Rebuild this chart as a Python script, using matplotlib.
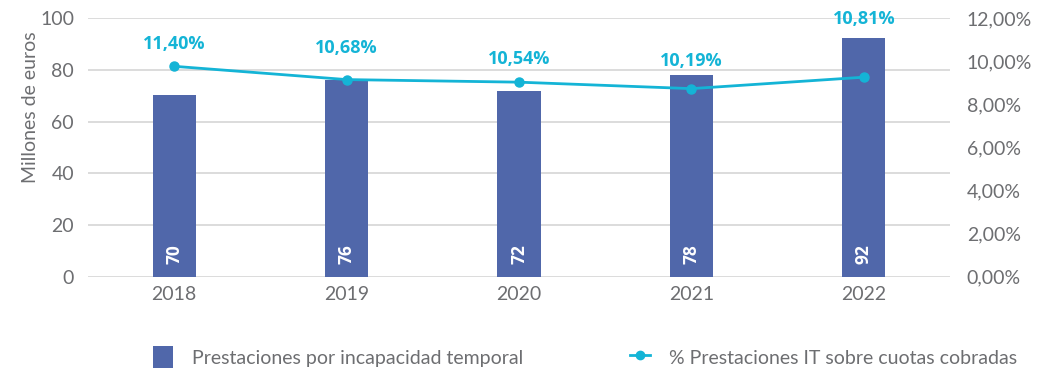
import matplotlib
matplotlib.use("Agg")
import matplotlib.pyplot as plt
from matplotlib.ticker import FuncFormatter
from matplotlib.lines import Line2D
from matplotlib.patches import Patch


# ----------------------------------------------------------------------
# Data
# ----------------------------------------------------------------------
years = ["2018", "2019", "2020", "2021", "2022"]
benefits_meur = [70.4, 76.1, 71.9, 77.9, 92.3]
benefits_pct = [11.40, 10.68, 10.54, 10.19, 10.81]
right_ticks = [0, 2, 4, 6, 8, 10, 12]

BAR_COLOUR = "#5067aa"
LINE_COLOUR = "#14b4d6"
TEXT_COLOUR = "#6d6e71"
GRID_COLOUR = "#d9d9d9"
BOLD_FONT = ["Open Sans", "DejaVu Sans"]

plt.rcParams["font.family"] = ["Lato", "DejaVu Sans"]


def comma(v, decimals):
    return f"{v:.{decimals}f}".replace(".", ",")


fig = plt.figure(figsize=(10.45, 3.7), dpi=100)
ax = fig.add_axes([0.0842, 0.2522, 0.8250, 0.6983])

x = range(len(years))
ax.bar(x, benefits_meur, width=0.25, color=BAR_COLOUR, zorder=2)

for xi, v in zip(x, benefits_meur):
    ax.text(xi, 5.0, f"{v:.0f}", rotation=90, ha="center", va="bottom",
            color="white", fontsize=12.5, fontweight="bold", family=BOLD_FONT,
            zorder=3)

ax.set_ylim(0, 100)
ax.set_xlim(-0.5, len(years) - 0.5)
ax.set_yticks([0, 20, 40, 60, 80, 100])
ax.set_xticks(list(x))
ax.set_xticklabels(years)
ax.yaxis.grid(True, color=GRID_COLOUR, linewidth=1.3, zorder=0)
ax.set_axisbelow(True)
ax.tick_params(axis="both", length=0, colors=TEXT_COLOUR, labelsize=14)
ax.tick_params(axis="x", pad=7)
ax.tick_params(axis="y", pad=10)
ax.set_ylabel("Millones de euros", color=TEXT_COLOUR, fontsize=14)
ax.yaxis.set_label_coords(-0.057, 0.655)
for s in ax.spines.values():
    s.set_visible(False)

# right-hand percentage scale
ax2 = ax.twinx()
ax2.set_ylim(0, 12)
ax2.set_yticks(right_ticks)
ax2.yaxis.set_major_formatter(FuncFormatter(lambda v, _: comma(v, 2) + "%"))
ax2.tick_params(axis="y", length=0, colors=TEXT_COLOUR, labelsize=14, pad=12)
for s in ax2.spines.values():
    s.set_visible(False)

# line series sits on its own scale (0-14 %)
ax3 = ax.twinx()
ax3.set_ylim(0, 14)
ax3.set_axis_off()
ax3.plot(list(x), benefits_pct, color=LINE_COLOUR, linewidth=2,
         marker="o", markersize=6.5, zorder=4)

label_offsets = [16, 23, 17, 20, 42]
for xi, v, off in zip(x, benefits_pct, label_offsets):
    ax3.annotate(comma(v, 2) + "%", (xi, v), xytext=(0, off),
                 textcoords="offset points", ha="center", va="center",
                 color=LINE_COLOUR, fontsize=13, fontweight="bold",
                 family=BOLD_FONT)

handles = [
    Patch(facecolor=BAR_COLOUR, edgecolor="none"),
    Line2D([0], [0], color=LINE_COLOUR, linewidth=2, marker="o", markersize=6),
]
labels = ["Prestaciones por incapacidad temporal",
          "% Prestaciones IT sobre cuotas cobradas"]
leg = fig.legend(handles, labels, loc="center", bbox_to_anchor=(0.56, 0.035),
                 ncol=2, frameon=False, fontsize=14, columnspacing=5.5,
                 handlelength=1.0, handletextpad=1.0, handleheight=1.4)
for t in leg.get_texts():
    t.set_color(TEXT_COLOUR)

fig.savefig("out.png", dpi=100)
